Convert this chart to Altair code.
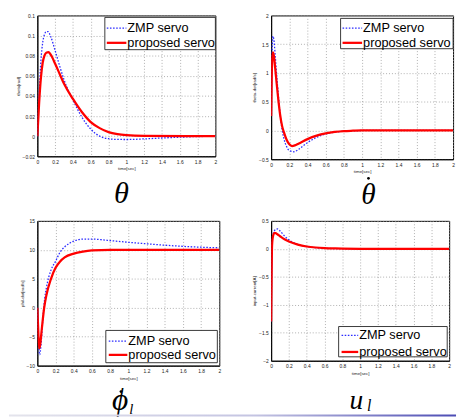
import altair as alt
import pandas as pd

# ---------------- data ----------------
# Panel 1: theta
t1_zmp = [0, 0.02, 0.04, 0.06, 0.08, 0.1, 0.12, 0.15, 0.2, 0.25, 0.3, 0.4, 0.5, 0.6, 0.7, 0.8, 0.9, 1.0, 1.2, 1.4, 1.6, 1.8, 2.0]
v1_zmp = [0, 0.042, 0.075, 0.093, 0.101, 0.104, 0.104, 0.099, 0.085, 0.07, 0.056, 0.036, 0.019, 0.007, 0.0, -0.0025, -0.0032, -0.0033, -0.0027, -0.0018, -0.001, -0.0004, -0.0001]
t1_pro = [0, 0.02, 0.04, 0.06, 0.08, 0.1, 0.125, 0.15, 0.2, 0.25, 0.3, 0.4, 0.5, 0.6, 0.7, 0.8, 0.9, 1.0, 1.2, 2.0]
v1_pro = [0, 0.033, 0.058, 0.073, 0.080, 0.083, 0.0835, 0.081, 0.072, 0.062, 0.052, 0.037, 0.024, 0.014, 0.008, 0.004, 0.002, 0.001, 0.0003, 0.0]

# Panel 2: theta-dot
t2_zmp = [0, 0.005, 0.012, 0.02, 0.03, 0.045, 0.06, 0.08, 0.1, 0.12, 0.14, 0.17, 0.2, 0.25, 0.3, 0.35, 0.4, 0.5, 0.6, 0.7, 0.8, 0.9, 1.0, 2.0]
v2_zmp = [0.25, 0.9, 1.45, 1.64, 1.58, 1.3, 0.98, 0.6, 0.27, 0.02, -0.14, -0.28, -0.35, -0.37, -0.33, -0.27, -0.21, -0.12, -0.06, -0.03, -0.012, -0.004, 0.0, 0.0]
t2_pro = [0, 0.005, 0.012, 0.02, 0.03, 0.045, 0.06, 0.08, 0.1, 0.12, 0.14, 0.17, 0.2, 0.23, 0.26, 0.3, 0.4, 0.5, 0.6, 0.7, 0.8, 0.9, 1.0, 2.0]
v2_pro = [0.25, 0.8, 1.25, 1.36, 1.3, 1.08, 0.83, 0.52, 0.26, 0.08, -0.03, -0.16, -0.24, -0.27, -0.26, -0.23, -0.15, -0.09, -0.05, -0.025, -0.01, -0.004, 0.0, 0.0]

# Panel 3: phi_l-dot
t3_zmp = [0, 0.01, 0.025, 0.04, 0.06, 0.08, 0.1, 0.15, 0.2, 0.25, 0.3, 0.4, 0.5, 0.6, 0.7, 0.8, 1.0, 1.2, 1.4, 1.6, 1.8, 2.0]
v3_zmp = [0, -4.5, -8.1, -6.5, -2.0, 1.5, 3.5, 6.5, 8.0, 9.6, 10.5, 11.5, 11.85, 11.85, 11.75, 11.6, 11.3, 11.05, 10.8, 10.6, 10.45, 10.35]
t3_pro = [0, 0.01, 0.02, 0.03, 0.05, 0.075, 0.1, 0.15, 0.2, 0.25, 0.3, 0.4, 0.5, 0.6, 0.8, 1.0, 2.0]
v3_pro = [0, -4.0, -7.0, -6.5, -3.5, 0.0, 2.2, 5.0, 6.9, 8.0, 8.7, 9.35, 9.7, 9.9, 10.0, 10.0, 10.0]

# Panel 4: u_l
t4_zmp = [0, 0.005, 0.01, 0.02, 0.035, 0.05, 0.07, 0.1, 0.15, 0.2, 0.3, 0.4, 0.5, 0.6, 0.7, 0.8, 1.0, 2.0]
v4_zmp = [-1.3, -0.5, 0.05, 0.25, 0.32, 0.345, 0.355, 0.32, 0.23, 0.16, 0.08, 0.04, 0.02, 0.01, 0.005, 0.002, 0.0, 0.0]
t4_pro = [0, 0.005, 0.01, 0.02, 0.035, 0.05, 0.07, 0.1, 0.15, 0.2, 0.3, 0.4, 0.5, 0.6, 0.7, 0.8, 1.0, 2.0]
v4_pro = [-1.3, -0.5, 0.05, 0.22, 0.28, 0.28, 0.26, 0.225, 0.17, 0.13, 0.075, 0.042, 0.024, 0.014, 0.008, 0.004, 0.001, 0.0]

x_ticks = [0, 0.2, 0.4, 0.6, 0.8, 1, 1.2, 1.4, 1.6, 1.8, 2]
y1_ticks = [-0.02, 0, 0.02, 0.04, 0.06, 0.08, 0.1, 0.12]
y2_ticks = [-0.5, 0, 0.5, 1, 1.5, 2]
y3_ticks = [-10, -5, 0, 5, 10, 15]
y4_ticks = [-2, -1.5, -1, -0.5, 0, 0.5]

series_names = ["ZMP servo", "proposed servo"]
y_titles = ["theta[rad]", "theta-dot[rad/s]", "phil-dot[rad/s]", "input-current[A]"]
x_title = "time[sec]"

BLUE = "#2b2bff"
RED = "#ff0000"
one = pd.DataFrame({"k": [0]})


def txt(s, x, y, size, font="Liberation Serif", style="italic", align="center"):
    return alt.Chart(one).mark_text(align=align, baseline="alphabetic", fontSize=size,
                                    font=font, fontStyle=style, color="black").encode(
        x=alt.value(x), y=alt.value(y), text=alt.value(s))


def dot(x, y):
    return alt.Chart(one).mark_circle(color="black", opacity=1, size=8).encode(
        x=alt.value(x), y=alt.value(y))


def panel(tz, vz, tp, vp, ydom, yticks, ytitle, w, h, leg, extras, bar=False):
    dz = pd.DataFrame({"t": tz, "v": vz})
    dp = pd.DataFrame({"t": tp, "v": vp})
    xenc = alt.X("t:Q", scale=alt.Scale(domain=[0, 2], nice=False, zero=False),
                 axis=alt.Axis(values=x_ticks, tickCount=len(x_ticks), format="~g", title=x_title))
    yenc = alt.Y("v:Q", scale=alt.Scale(domain=ydom, nice=False, zero=False),
                 axis=alt.Axis(values=yticks, tickCount=len(yticks), format="~g", title=ytitle))
    blue = alt.Chart(dz).mark_line(color=BLUE, strokeWidth=1.3, strokeDash=[1.6, 1.6],
                                   interpolate="monotone", clip=True).encode(x=xenc, y=yenc)
    red = alt.Chart(dp).mark_line(color=RED, strokeWidth=2.3,
                                  interpolate="monotone", clip=True).encode(x="t:Q", y="v:Q")
    x0, x1, y0, y1, sx0, sx1, tx, r1, r2 = leg
    box = alt.Chart(one).mark_rect(fill="white", stroke="#222", strokeWidth=0.9).encode(
        x=alt.value(x0), x2=alt.value(x1), y=alt.value(y0), y2=alt.value(y1))
    s1 = alt.Chart(one).mark_rule(color=BLUE, strokeWidth=1.3, strokeDash=[1.6, 1.6]).encode(
        x=alt.value(sx0), x2=alt.value(sx1), y=alt.value(r1))
    s2 = alt.Chart(one).mark_rule(color=RED, strokeWidth=2.3).encode(
        x=alt.value(sx0), x2=alt.value(sx1), y=alt.value(r2))
    l1 = alt.Chart(one).mark_text(align="left", baseline="middle", fontSize=13,
                                  font="Liberation Sans", color="black").encode(
        x=alt.value(tx), y=alt.value(r1), text=alt.value(series_names[0]))
    l2 = alt.Chart(one).mark_text(align="left", baseline="middle", fontSize=13,
                                  font="Liberation Sans", color="black").encode(
        x=alt.value(tx), y=alt.value(r2), text=alt.value(series_names[1]))
    layers = [blue, red, box, s1, s2, l1, l2] + extras
    if bar:
        layers.append(alt.Chart(one).mark_rect(
            fill=alt.Gradient(gradient="linear",
                              stops=[alt.GradientStop(color="#e4e4ec", offset=0),
                                     alt.GradientStop(color="#c4c4e2", offset=0.55),
                                     alt.GradientStop(color="#4c4cb4", offset=1)],
                              x1=0, x2=1, y1=0, y2=0)).encode(
            x=alt.value(-29), x2=alt.value(428), y=alt.value(h + 50), y2=alt.value(h + 52)))
    return alt.layer(*layers).properties(width=w, height=h)


p1 = panel(t1_zmp, v1_zmp, t1_pro, v1_pro, [-0.02, 0.12], y1_ticks, y_titles[0], 182, 144,
           (69, 182, 2, 35, 71, 91, 92, 13, 28),
           [txt("θ", 86, 192, 31)])
p2 = panel(t2_zmp, v2_zmp, t2_pro, v2_pro, [-0.5, 2], y2_ticks, y_titles[1], 186, 147,
           (71, 186, 3, 34, 73, 93, 94, 13, 28),
           [txt("θ", 99.5, 193, 30), dot(99.5, 166.5)])
p3 = panel(t3_zmp, v3_zmp, t3_pro, v3_pro, [-10, 15], y3_ticks, y_titles[2], 186, 148,
           (70, 184, 112, 145, 73, 92, 93, 123, 137),
           [txt("ϕ", 84.5, 193, 32), dot(85.5, 174.5), txt("l", 94, 197, 15, align="left")],
           bar=True)
p4 = panel(t4_zmp, v4_zmp, t4_pro, v4_pro, [-2, 0.5], y4_ticks, y_titles[3], 182, 143,
           (69, 180, 108, 139, 72, 89, 90, 117, 134),
           [txt("u", 87, 192, 28), txt("l", 98, 194, 16, align="left")])

chart = alt.ConcatChart(
    concat=[p1, p2, p3, p4], columns=2, bounds="flush",
    align={"row": "all", "column": "none"},
    spacing={"row": 62, "column": 53},
).properties(
    padding={"left": 0, "top": 0, "right": 0, "bottom": 0}, background="white"
).configure_view(stroke="black", strokeWidth=1).configure_axis(
    labelFont="Liberation Sans", labelFontSize=5, labelColor="#222", labelOverlap=False,
    labelBound=False, labelFlush=False,
    titleFont="Liberation Sans", titleFontSize=4.5, titleFontWeight="normal", titleColor="#222",
    domainColor="black", domainWidth=1, tickSize=0, labelPadding=3, titlePadding=2,
    gridColor="#9a9a9a", gridDash=[1, 2], gridWidth=0.8
)

chart.save("out.html", embed_options={"renderer": "svg", "actions": False})
